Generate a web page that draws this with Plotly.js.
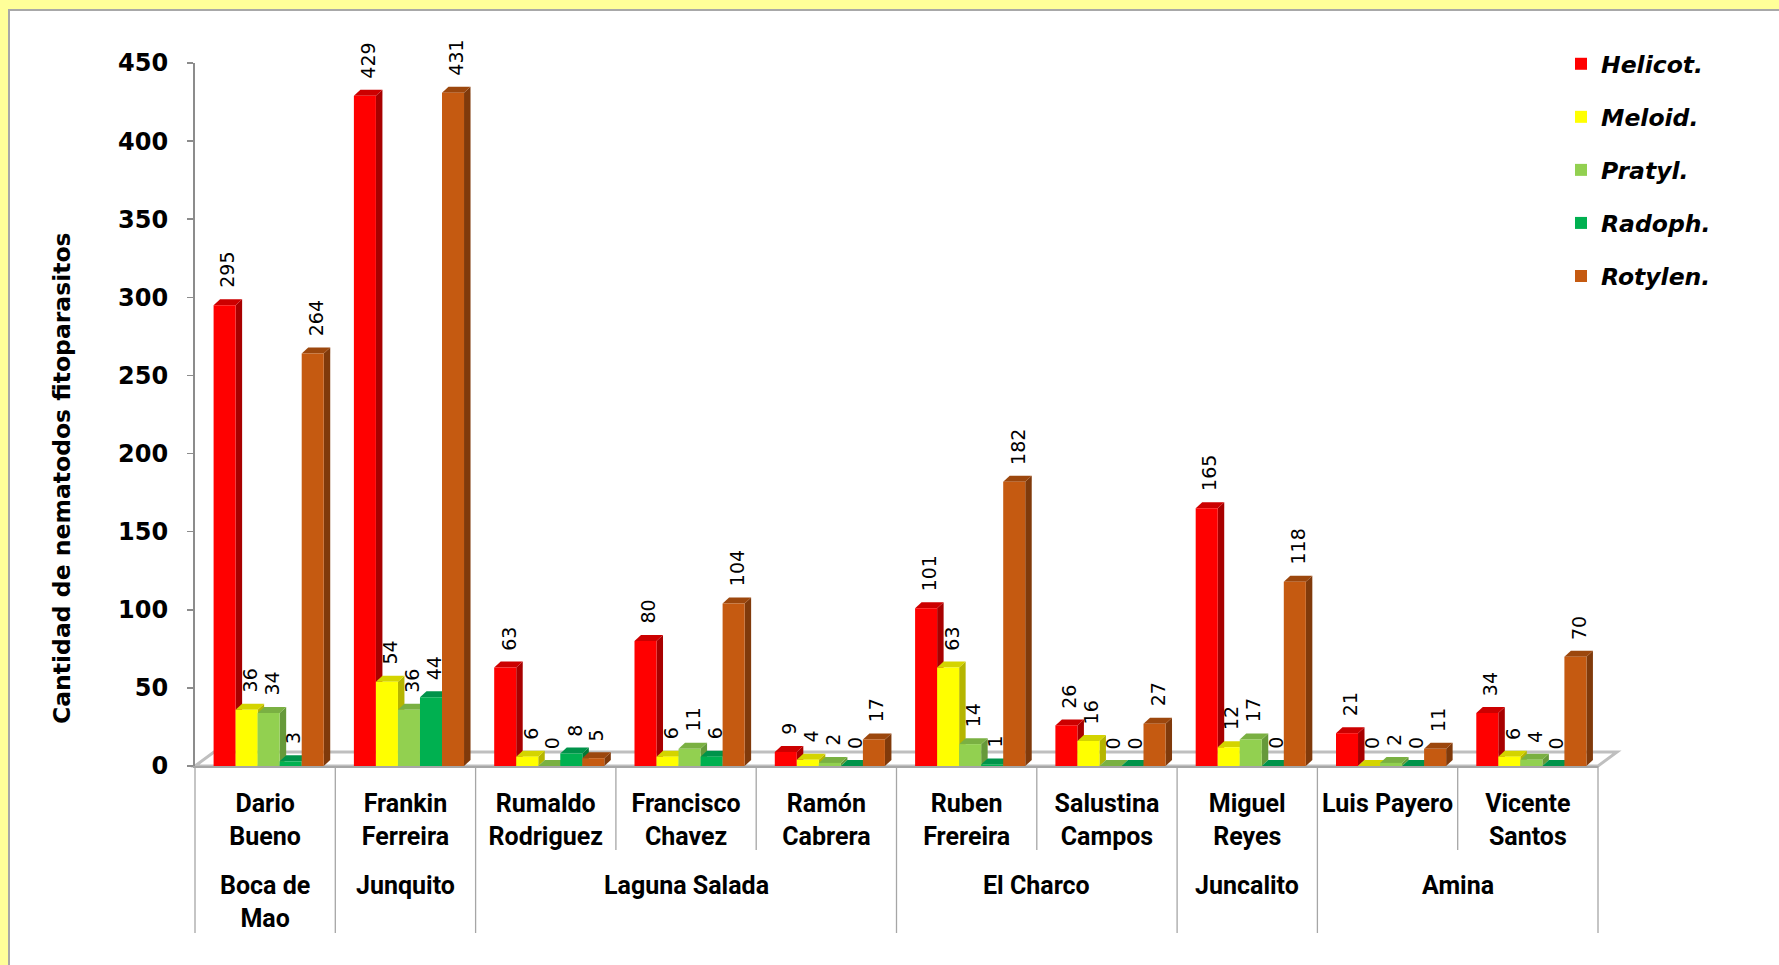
<!DOCTYPE html>
<html><head><meta charset="utf-8">
<script src="https://cdn.plot.ly/plotly-3.0.1.min.js"></script>
<style>html,body{margin:0;padding:0;background:#fff}#chart{width:1779px;height:965px}</style>
</head><body><div id="chart"></div>
<script>
// ---- data ----
const farms = ["Dario Bueno","Frankin Ferreira","Rumaldo Rodriguez","Francisco Chavez","Ramón Cabrera","Ruben Frereira","Salustina Campos","Miguel Reyes","Luis Payero","Vicente Santos"];
const farmLabels = ["Dario<br>Bueno","Frankin<br>Ferreira","Rumaldo<br>Rodriguez","Francisco<br>Chavez","Ramón<br>Cabrera","Ruben<br>Frereira","Salustina<br>Campos","Miguel<br>Reyes","Luis Payero","Vicente<br>Santos"];
const locations = ["Boca de Mao","Junquito","Laguna Salada","Laguna Salada","Laguna Salada","El Charco","El Charco","Juncalito","Amina","Amina"];
const locationLabels = {"Boca de Mao":"Boca de<br>Mao","Junquito":"Junquito","Laguna Salada":"Laguna Salada","El Charco":"El Charco","Juncalito":"Juncalito","Amina":"Amina"};
const seriesNames = ["Helicot.","Meloid.","Pratyl.","Radoph.","Rotylen."];
const helicot = [295,429,63,80,9,101,26,165,21,34];
const meloid  = [36,54,6,6,4,63,16,12,0,6];
const pratyl  = [34,36,0,11,2,14,0,17,2,4];
const radoph  = [3,44,8,6,0,1,0,0,0,0];
const rotylen = [264,431,5,104,17,182,27,118,11,70];
const yTicks = [0,50,100,150,200,250,300,350,400,450];
const yTitle = "Cantidad de nematodos fitoparasitos";

const series = [helicot, meloid, pratyl, radoph, rotylen];
const frontColors = ["#FF0000","#FFFF00","#92D050","#00B050","#C55A11"];
const sideColors  = ["#A80000","#B5B500","#66993A","#007A36","#803A0B"];
const topColors   = ["#CC0000","#D4D400","#7AB042","#00934A","#9C470D"];

// ---- geometry (layout) ----
const W = 1779, H = 965, ML = 195, MR = 181, MT = 63, MB = 199;
const PW = W - ML - MR, PH = H - MT - MB;
const YMAX = 450;
const pxX = PW / farms.length;      // px per category
const pxY = PH / YMAX;               // px per unit
const BW = 0.157, SHIFT = 0.025;
const DX = 6.5 / pxX, DY = 6 / pxY;
const px2paperX = p => (p - ML) / PW;
const py2paperY = p => (H - MB - p) / PH;

const traces = [];
const shapes = [];
const annotations = [];

// frame
shapes.push({type:'rect', xref:'paper', yref:'paper', layer:'below',
  x0: px2paperX(10), x1: px2paperX(W + 20), y0: py2paperY(H + 20), y1: py2paperY(10),
  fillcolor:'#FFFFFF', line:{width:0}});
shapes.push({type:'line', xref:'paper', yref:'paper', layer:'below',
  x0: px2paperX(9), x1: px2paperX(9), y0: py2paperY(9), y1: py2paperY(H + 5), line:{color:'#A8A8A8', width:2}});
shapes.push({type:'line', xref:'paper', yref:'paper', layer:'below',
  x0: px2paperX(8), x1: px2paperX(W + 5), y0: py2paperY(10), y1: py2paperY(10), line:{color:'#A8A8A8', width:2}});

// floor (3D base)
const fdx = 19, fdy = 14;
shapes.push({type:'path', xref:'paper', yref:'paper', layer:'below',
  path: `M${px2paperX(ML)},${py2paperY(H-MB)} L${px2paperX(ML+fdx)},${py2paperY(H-MB-fdy)} L${px2paperX(W-MR+fdx)},${py2paperY(H-MB-fdy)} L${px2paperX(W-MR)},${py2paperY(H-MB)} Z`,
  line:{color:'#BFBFBF', width:3}, fillcolor:'rgba(255,255,255,0)'});

// bars + 3D faces + value labels
const sideShapes = [], topShapes = [];
series.forEach((vals, j) => {
  const off = -0.3925 + j * BW + SHIFT;
  traces.push({type:'bar', name: seriesNames[j], x: farms, y: vals, width: BW, offset: off,
    marker:{color: frontColors[j]}, legendgroup: seriesNames[j], hoverinfo:'x+y+name'});
  vals.forEach((v, i) => {
    const x0 = i + off, x1 = x0 + BW;
    sideShapes.push({type:'path', xref:'x', yref:'y', layer:'below', line:{width:0}, fillcolor: sideColors[j],
      path:`M${x1},0 L${x1+DX},${DY} L${x1+DX},${v+DY} L${x1},${v} Z`});
    topShapes.push({type:'path', xref:'x', yref:'y', layer:'below', line:{width:0}, fillcolor: topColors[j],
      path:`M${x0},${v} L${x0+DX},${v+DY} L${x1+DX},${v+DY} L${x1},${v} Z`});
    annotations.push({xref:'x', yref:'y', x: x0 + BW/2, y: v, text: String(v), showarrow:false,
      textangle:-90, xanchor:'center', yanchor:'bottom', yshift:15, xshift:3,
      font:{family:'DejaVu Sans, Verdana, sans-serif', size:19, color:'#000'}});
  });
});
shapes.push(...sideShapes, ...topShapes);

// category dividers: short between farms, long between locations
for (let k = 0; k <= farms.length; k++) {
  const isLong = (k === 0 || k === farms.length || locations[k] !== locations[k-1]);
  shapes.push({type:'line', xref:'paper', yref:'paper', layer:'below',
    x0: k / farms.length, x1: k / farms.length,
    y0: py2paperY(H - MB), y1: py2paperY(isLong ? 933 : 850),
    line:{color:'#A6A6A6', width:1.3}});
}

// location labels
const uniq = [];
locations.forEach((loc, i) => {
  if (!uniq.length || uniq[uniq.length-1].loc !== loc) uniq.push({loc, start:i, end:i});
  else uniq[uniq.length-1].end = i;
});
uniq.forEach(g => {
  annotations.push({xref:'x', yref:'paper', x:(g.start + g.end)/2, y: py2paperY(869), yanchor:'top', xanchor:'center',
    text: locationLabels[g.loc], showarrow:false, align:'center',
    font:{family:'Roboto, sans-serif', size:25, color:'#000', weight:'bold'}});
});

// y title
annotations.push({xref:'paper', yref:'paper', x: px2paperX(62), y: py2paperY(478), textangle:-90,
  xanchor:'center', yanchor:'middle', showarrow:false, text: yTitle,
  font:{family:'DejaVu Sans, Verdana, sans-serif', size:23.5, color:'#000', weight:'bold'}});

const layout = {
  width: W, height: H,
  margin:{l:ML, r:MR, t:MT, b:MB, pad:0},
  paper_bgcolor:'#FFFF99', plot_bgcolor:'rgba(0,0,0,0)',
  barmode:'overlay',
  showlegend:true,
  legend:{x: px2paperX(1561), y: py2paperY(42), xanchor:'left', yanchor:'top',
    font:{family:'DejaVu Sans, Verdana, sans-serif', size:23.5, color:'#000', weight:'bold', style:'italic'},
    tracegroupgap: 19.5, bgcolor:'rgba(0,0,0,0)', traceorder:'grouped', itemwidth:30},
  xaxis:{type:'category', categoryarray: farms, tickvals: farms, ticktext: farmLabels,
    range:[-0.5, farms.length - 0.5], showgrid:false, zeroline:false,
    showline:true, linecolor:'#A6A6A6', linewidth:2, ticks:'', ticklabelstandoff: 14,
    tickfont:{family:'Roboto, sans-serif', size:25, color:'#000', weight:'bold'}, fixedrange:true},
  yaxis:{range:[0, YMAX], tickvals: yTicks, showgrid:false, zeroline:false,
    showline:true, linecolor:'#8C8C8C', linewidth:2, ticks:'outside', ticklen:6, tickwidth:1.5, tickcolor:'#8C8C8C',
    ticklabelstandoff: 14,
    tickfont:{family:'DejaVu Sans, Verdana, sans-serif', size:24, color:'#000', weight:'bold'}, fixedrange:true},
  shapes, annotations
};
Plotly.newPlot('chart', traces, layout, {displayModeBar:false, staticPlot:true});
</script></body></html>
